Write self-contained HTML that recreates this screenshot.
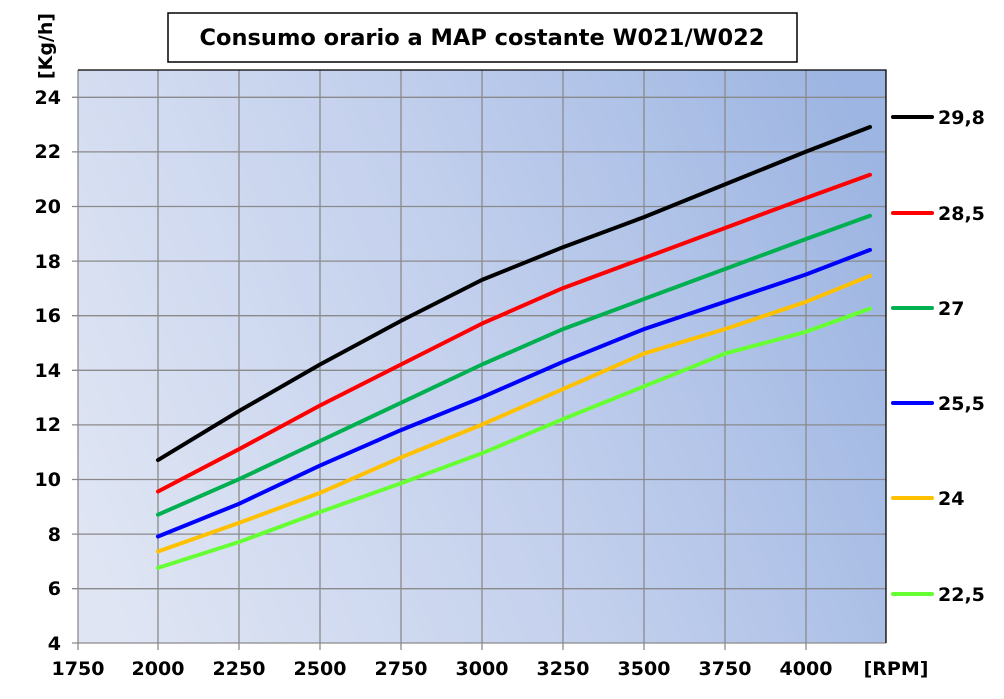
<!DOCTYPE html>
<html><head><meta charset="utf-8"><style>
body{margin:0;background:#fff;}
svg text{font-family:"DejaVu Sans","Liberation Sans",sans-serif;font-weight:bold;fill:#000;}
</style></head><body>
<svg width="1004" height="694" viewBox="0 0 1004 694" xmlns="http://www.w3.org/2000/svg">
<defs>
<linearGradient id="bg" gradientUnits="userSpaceOnUse" x1="78" y1="520" x2="886" y2="190">
<stop offset="0" stop-color="#dfe5f3"/>
<stop offset="0.5" stop-color="#c3d0ed"/>
<stop offset="1" stop-color="#9db5e2"/>
</linearGradient>
</defs>
<rect x="168" y="13" width="629" height="49" fill="#fff" stroke="#000" stroke-width="1.5"/>
<text x="482" y="45" font-size="22.5" text-anchor="middle">Consumo orario a MAP costante W021/W022</text>
<rect x="78" y="70" width="808" height="573" fill="url(#bg)"/>
<g stroke="#8a8a8a" stroke-width="1.3">
<line x1="158" y1="70" x2="158" y2="650"/><line x1="239" y1="70" x2="239" y2="650"/>
<line x1="320" y1="70" x2="320" y2="650"/><line x1="401" y1="70" x2="401" y2="650"/>
<line x1="482" y1="70" x2="482" y2="650"/><line x1="563" y1="70" x2="563" y2="650"/>
<line x1="644" y1="70" x2="644" y2="650"/><line x1="725" y1="70" x2="725" y2="650"/>
<line x1="806" y1="70" x2="806" y2="650"/><line x1="78" y1="70" x2="78" y2="650"/>
<line x1="72" y1="97.3" x2="886" y2="97.3"/><line x1="72" y1="151.9" x2="886" y2="151.9"/>
<line x1="72" y1="206.5" x2="886" y2="206.5"/><line x1="72" y1="261.1" x2="886" y2="261.1"/>
<line x1="72" y1="315.7" x2="886" y2="315.7"/><line x1="72" y1="370.3" x2="886" y2="370.3"/>
<line x1="72" y1="424.9" x2="886" y2="424.9"/><line x1="72" y1="479.5" x2="886" y2="479.5"/>
<line x1="72" y1="534.1" x2="886" y2="534.1"/><line x1="72" y1="588.7" x2="886" y2="588.7"/>
<line x1="72" y1="643" x2="886" y2="643"/>
</g>
<polyline points="78,70 886,70 886,643" fill="none" stroke="#000" stroke-width="1.3"/>
<g font-size="19" text-anchor="end">
<text x="61" y="104">24</text><text x="61" y="158">22</text><text x="61" y="213">20</text>
<text x="61" y="268">18</text><text x="61" y="322">16</text><text x="61" y="377">14</text>
<text x="61" y="431">12</text><text x="61" y="486">10</text><text x="61" y="541">8</text>
<text x="61" y="595">6</text><text x="61" y="650">4</text>
</g>
<g font-size="19" text-anchor="middle">
<text x="78" y="675">1750</text><text x="158" y="675">2000</text><text x="239" y="675">2250</text>
<text x="320" y="675">2500</text><text x="401" y="675">2750</text><text x="482" y="675">3000</text>
<text x="563" y="675">3250</text><text x="644" y="675">3500</text><text x="725" y="675">3750</text>
<text x="806" y="675">4000</text><text x="896" y="675">[RPM]</text>
</g>
<text transform="translate(52,46) rotate(-90)" font-size="19" text-anchor="middle">[Kg/h]</text>
<g fill="none" stroke-width="4" stroke-linejoin="round" stroke-linecap="round">
<polyline stroke="#000" points="158,460.1 239,411 320,364.5 401,320.9 482,279.9 563,247.2 644,217.1 725,184.4 806,151.6 870,127"/>
<polyline stroke="#ff0000" points="158,491.5 239,449.2 320,405.5 401,364.5 482,323.6 563,288.1 644,258.1 725,228 806,198 870,174.8"/>
<polyline stroke="#00b050" points="158,514.7 239,479.2 320,441 401,402.8 482,364.5 563,329.1 644,299 725,269 806,239 870,215.8"/>
<polyline stroke="#0000ff" points="158,536.5 239,503.8 320,465.6 401,430.1 482,397.3 563,361.8 644,329.1 725,301.8 806,274.5 870,249.9"/>
<polyline stroke="#ffc000" points="158,551.5 239,522.9 320,492.9 401,457.4 482,424.6 563,389.1 644,353.6 725,329.1 806,301.8 870,275.8"/>
<polyline stroke="#66ff33" points="158,567.9 239,542 320,512 401,483.3 482,453.3 563,419.1 644,386.4 725,353.6 806,331.8 870,308.6"/>
<line stroke="#000" x1="893" y1="117" x2="932" y2="117"/>
<line stroke="#ff0000" x1="893" y1="213" x2="932" y2="213"/>
<line stroke="#00b050" x1="893" y1="308" x2="932" y2="308"/>
<line stroke="#0000ff" x1="893" y1="403" x2="932" y2="403"/>
<line stroke="#ffc000" x1="893" y1="498" x2="932" y2="498"/>
<line stroke="#66ff33" x1="893" y1="594" x2="932" y2="594"/>
</g>
<g font-size="19">
<text x="938" y="124">29,8</text><text x="938" y="220">28,5</text><text x="938" y="315">27</text>
<text x="938" y="410">25,5</text><text x="938" y="505">24</text><text x="938" y="601">22,5</text>
</g>
</svg>
</body></html>
